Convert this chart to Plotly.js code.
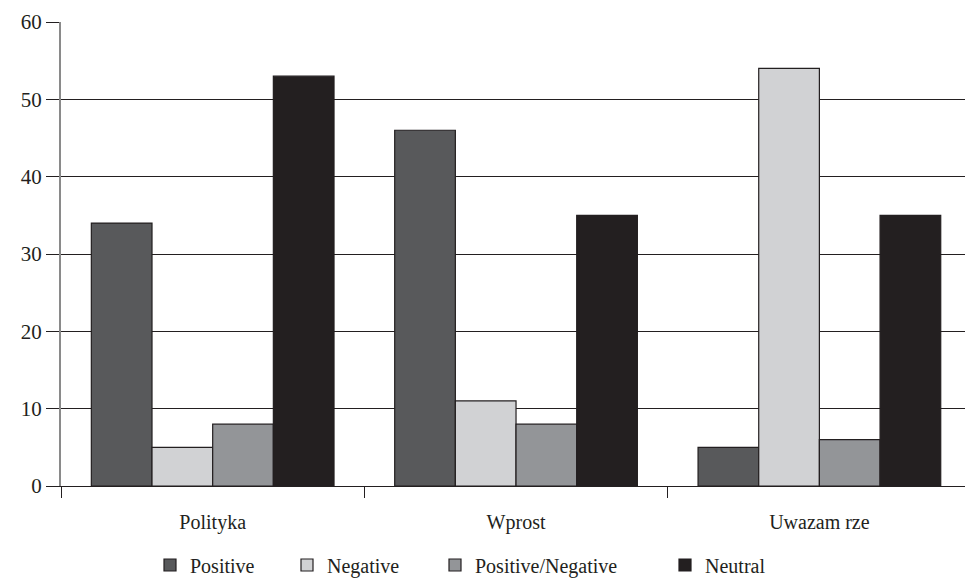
<!DOCTYPE html>
<html>
<head>
<meta charset="utf-8">
<script src="https://cdn.plot.ly/plotly-3.0.1.min.js"></script>
<style>
#chart text { font-family: "Liberation Serif", "Times New Roman", serif !important; }
.modebar-container { display: none !important; }
</style>
</head>
<body style="margin:0">
<div id="chart"></div>
<script>
const categories = ["Polityka", "Wprost", "Uwazam rze"];
const seriesNames = ["Positive", "Negative", "Positive/Negative", "Neutral"];
const positive = [34, 46, 5];
const negative = [5, 11, 54];
const positiveNegative = [8, 8, 6];
const neutral = [53, 35, 35];
const yTicks = [0, 10, 20, 30, 40, 50, 60];

(function () {
  var seriesValues = [positive, negative, positiveNegative, neutral];
  var barColors = ["#58595b", "#d1d2d4", "#939598", "#231f20"];
  var legendIds = ["legend", "legend2", "legend3", "legend4"];
  var legendLeftPx = [150, 287, 435, 665];
  var serif = "Times New Roman";
  var ink = "#231f20";

  var data = seriesValues.map(function (vals, i) {
    return {
      type: "bar",
      name: seriesNames[i],
      x: categories,
      y: vals,
      legend: legendIds[i],
      marker: { color: barColors[i], line: { color: ink, width: 1.2 } }
    };
  });

  var lay = {
    width: 965,
    height: 578,
    margin: { l: 61, r: 0, t: 22, b: 92, autoexpand: false },
    font: { family: serif, size: 21 },
    barmode: "group",
    bargap: 0.2,
    bargroupgap: 0,
    showlegend: true,
    xaxis: {
      type: "category",
      range: [-0.5, 2.48],
      tickson: "boundaries",
      ticks: "outside",
      ticklen: 11,
      tickcolor: ink,
      tickwidth: 1.2,
      showline: true,
      linecolor: ink,
      linewidth: 1.2,
      showgrid: false,
      ticklabelstandoff: 18,
      tickfont: { family: serif, size: 20, color: ink },
      automargin: false
    },
    yaxis: {
      range: [0, 60],
      tickvals: yTicks,
      ticktext: yTicks.map(String),
      ticks: "outside",
      ticklen: 13,
      tickcolor: ink,
      tickwidth: 1.2,
      showline: true,
      linecolor: "#8a8a8a",
      linewidth: 2,
      showgrid: true,
      gridcolor: ink,
      gridwidth: 1.2,
      zeroline: false,
      tickfont: { family: serif, size: 21, color: ink },
      automargin: false
    }
  };

  legendIds.forEach(function (id, i) {
    lay[id] = {
      orientation: "h",
      xref: "container", yref: "container",
      x: legendLeftPx[i] / 965, xanchor: "left",
      y: 13 / 578, yanchor: "middle",
      font: { family: serif, size: 20, color: ink }
    };
  });

  Plotly.newPlot("chart", data, lay);
})();
</script>
</body>
</html>
